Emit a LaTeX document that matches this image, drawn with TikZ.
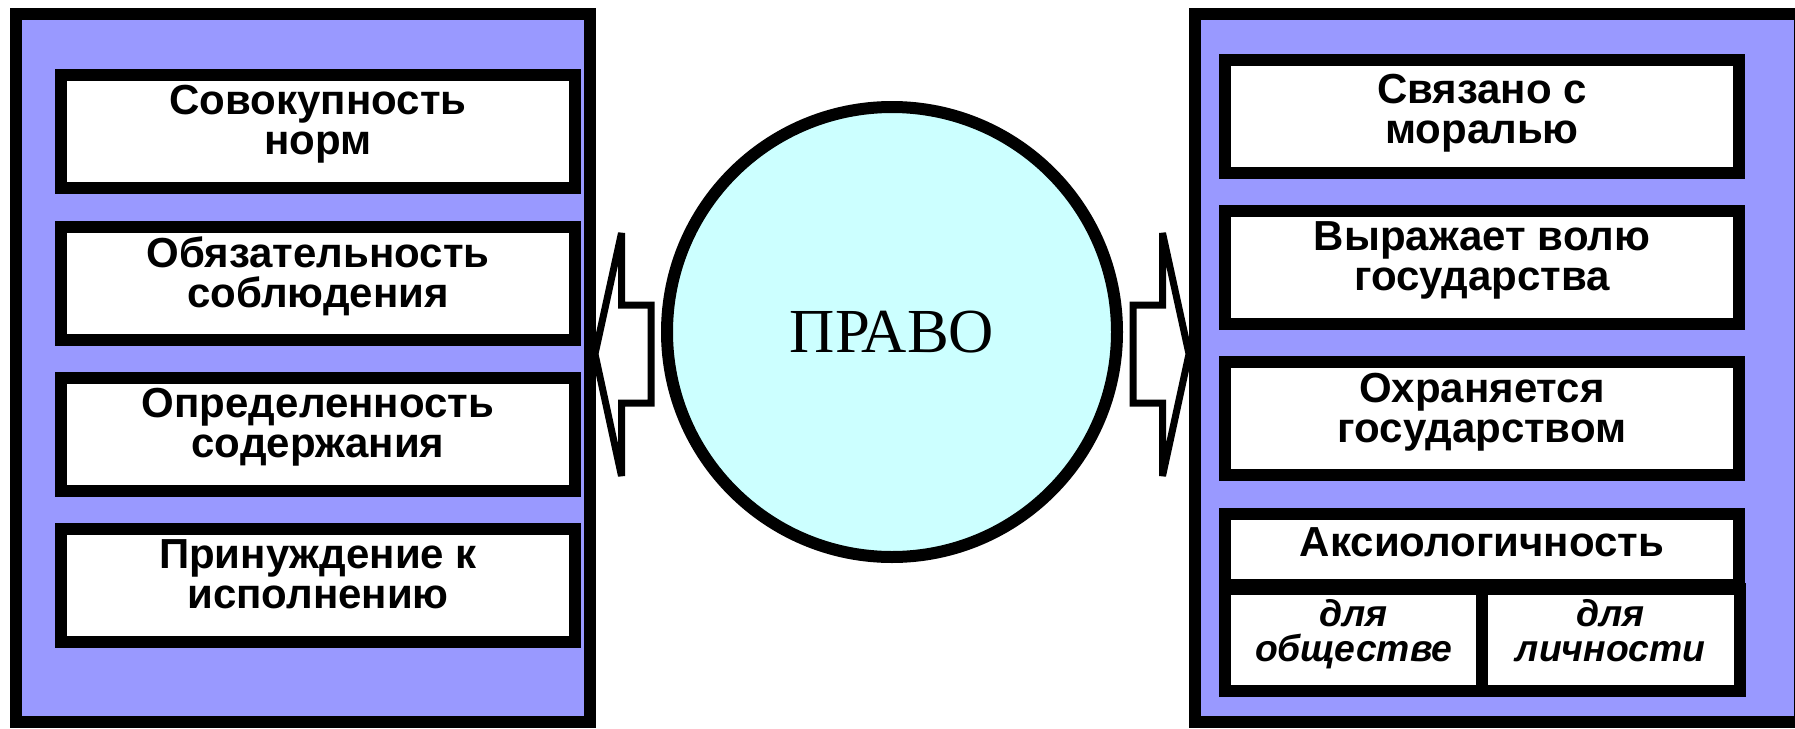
\documentclass[tikz,border=0pt]{standalone}
\usepackage{fontspec}
\setmainfont{Liberation Sans}
\newfontfamily\pravofont{Liberation Serif}
\definecolor{panelblue}{HTML}{9999FF}
\definecolor{circlecyan}{HTML}{CCFFFF}
\begin{document}
\begin{tikzpicture}[x=0.75pt,y=-0.75pt,
  panel/.style={draw=black,fill=panelblue,line width=9pt,rectangle,inner sep=0pt,minimum height=531pt},
  box/.style={draw=black,fill=white,line width=9pt,rectangle,inner sep=0pt,minimum width=385.5pt,minimum height=84.75pt},
  cell/.style={draw=black,fill=white,line width=9pt,rectangle,inner sep=0pt,minimum width=193.1pt,minimum height=76.5pt},
  boxtext/.style={font=\fontsize{31.5pt}{30pt}\selectfont\bfseries,align=center,inner sep=0pt,text=black},
  celltext/.style={font=\fontsize{28pt}{26.5pt}\selectfont\bfseries\itshape,align=center,inner sep=0pt,text=black},
  blockarrow/.style={draw=black,fill=white,line width=5.25pt,line join=miter,miter limit=2},
]
\useasboundingbox (0,0) rectangle (1795,728);
\fill[white] (0,0) rectangle (1795,728);
\clip (0,0) rectangle (1795,728);

% block arrows
\draw[blockarrow] (595,354) -- (621.5,233) -- (621.5,305) -- (651,305) -- (651,403) -- (621.5,403) -- (621.5,476) -- cycle;
\draw[blockarrow] (1189,354) -- (1162.5,233) -- (1162.5,305) -- (1133,305) -- (1133,403) -- (1162.5,403) -- (1162.5,476) -- cycle;

% panels
\node[panel,minimum width=430.5pt] (lpanel) at (303,368) {};
\node[panel,minimum width=453.75pt] (rpanel) at (1497.5,368) {};

% left boxes
\node[box] (l1) at (318,131) {};
\node[box] (l2) at (318,283) {};
\node[box] (l3) at (318,434) {};
\node[box] (l4) at (318,585) {};
\node[boxtext] (lt1) at ([yshift=3.75pt]l1.center) {Совокупность\\норм\strut};
\node[boxtext] (lt2) at ([yshift=3.75pt]l2.center) {Обязательность\\соблюдения\strut};
\node[boxtext] (lt3) at ([yshift=3.75pt]l3.center) {Определенность\\содержания\strut};
\node[boxtext] (lt4) at ([yshift=3.75pt]l4.center) {Принуждение к\\исполнению\strut};

% right boxes
\node[box] (r1) at (1482,116.5) {};
\node[box] (r2) at (1482,267.5) {};
\node[box] (r3) at (1482,418.5) {};
\node[box,minimum height=53.25pt] (r4) at (1482,549.5) {};
\node[cell] (c1) at (1353.75,640) {};
\node[cell] (c2) at (1610.75,640) {};
\node[boxtext] (rt1) at ([yshift=1pt]r1.center) {Связано с\\моралью\strut};
\node[boxtext] (rt2) at ([yshift=3.75pt]r2.center) {Выражает волю\\государства\strut};
\node[boxtext] (rt3) at ([yshift=3.75pt]r3.center) {Охраняется\\государством\strut};
\node[boxtext,anchor=base] (rt4) at (1482,556) {Аксиологичность};
\node[celltext] (ct1) at ([yshift=3pt]c1.center) {для\\обществе\strut};
\node[celltext] (ct2) at ([yshift=3pt]c2.center) {для\\личности\strut};

% circle
\node[circle,draw=black,fill=circlecyan,line width=9pt,inner sep=0pt,minimum size=337.5pt,
  font=\pravofont\fontsize{47pt}{50pt}\selectfont] (pravo) at (892,332) {ПРАВО};
\end{tikzpicture}
\end{document}
